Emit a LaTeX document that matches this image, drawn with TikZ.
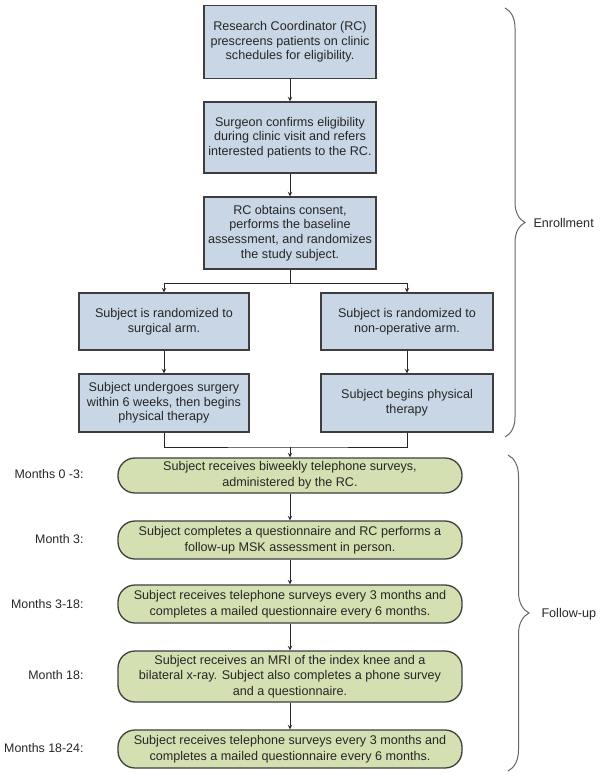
\documentclass[tikz,border=0pt]{standalone}
\usepackage{fontspec}
\setmainfont{Liberation Sans}
\usetikzlibrary{decorations.pathreplacing}
\definecolor{boxblue}{RGB}{201,214,230}
\definecolor{boxgreen}{RGB}{212,224,178}
\definecolor{boxline}{RGB}{62,62,62}

\begin{document}
\begin{tikzpicture}[x=1pt, y=-1pt, >=stealth,
  enrollbox/.style={draw=boxline, fill=boxblue, line width=1.3pt, align=center, inner sep=0pt,
    font=\fontsize{12.6}{14.6}\selectfont, text=black!85},
  followbox/.style={draw=boxline, fill=boxgreen, line width=1.3pt, align=center, inner sep=0pt,
    rounded corners=17pt, minimum width=344pt, font=\fontsize{12.6}{15.6}\selectfont, text=black!85},
  monthlabel/.style={anchor=east, font=\fontsize{12.4}{14}\selectfont, text=black!85},
  link/.style={->, line width=1pt, draw=black!85},
  bracemark/.style={decorate, decoration={brace, amplitude=20pt}, line width=1pt, draw=black!60}]
  \useasboundingbox (0,0) rectangle (602,778);
  \node[enrollbox, minimum width=172pt, minimum height=73pt] (prescreen) at (290,42)
    {Research Coordinator (RC)\\prescreens patients on clinic\\schedules for eligibility.};
  \node[enrollbox, minimum width=172pt, minimum height=71pt] (confirm) at (290,137.5)
    {Surgeon confirms eligibility\\during clinic visit and refers\\interested patients to the RC.};
  \node[enrollbox, minimum width=172pt, minimum height=72pt] (consent) at (290,233)
    {RC obtains consent,\\performs the baseline\\assessment, and randomizes\\the study subject.};
  \node[enrollbox, minimum width=170pt, minimum height=57pt] (surgarm) at (164,321.5)
    {Subject is randomized to\\surgical arm.};
  \node[enrollbox, minimum width=172pt, minimum height=57pt] (nonoparm) at (407,321.5)
    {Subject is randomized to\\non-operative arm.};
  \node[enrollbox, minimum width=170pt, minimum height=58pt] (surgery) at (164,403)
    {Subject undergoes surgery\\within 6 weeks, then begins\\physical therapy};
  \node[enrollbox, minimum width=172pt, minimum height=58pt] (therapy) at (407,403)
    {Subject begins physical\\therapy};
  \coordinate (split) at (290,283);
  \coordinate (merge) at (290,447);

  \node[followbox, minimum height=35pt] (biweekly) at (290,475.5)
    {Subject receives biweekly telephone surveys,\\administered by the RC.};
  \node[followbox, minimum height=38pt] (msk) at (290,540)
    {Subject completes a questionnaire and RC performs a\\follow-up MSK assessment in person.};
  \node[followbox, minimum height=38pt] (surveysa) at (290,604)
    {Subject receives telephone surveys every 3 months and\\completes a mailed questionnaire every 6 months.};
  \node[followbox, minimum height=51pt] (mri) at (290,676.5)
    {Subject receives an MRI of the index knee and a\\bilateral x-ray. Subject also completes a phone survey\\and a questionnaire.};
  \node[followbox, minimum height=38pt] (surveysb) at (290,749)
    {Subject receives telephone surveys every 3 months and\\completes a mailed questionnaire every 6 months.};

  \node[monthlabel] (m0) at (87,474) {Months 0 -3:};
  \node[monthlabel] (m3) at (87,539) {Month 3:};
  \node[monthlabel] (m318) at (87,604) {Months 3-18:};
  \node[monthlabel] (m18) at (87,675) {Month 18:};
  \node[monthlabel] (m1824) at (87,748) {Months 18-24:};

  \draw[link] (prescreen) -- (confirm);
  \draw[link] (confirm) -- (consent);
  \draw[line width=1pt, draw=black!85] (consent) -- (split);
  \draw[link] (split) -| (surgarm);
  \draw[link] (split) -| (nonoparm);
  \draw[link] (surgarm) -- (surgery);
  \draw[link] (nonoparm) -- (therapy);
  \draw[line width=1pt, draw=black!85] (surgery) |- (merge) -| (therapy);
  \draw[link] (merge) -- (biweekly);
  \draw[link] (biweekly) -- (msk);
  \draw[link] (msk) -- (surveysa);
  \draw[link] (surveysa) -- (mri);
  \draw[link] (mri) -- (surveysb);

  \coordinate (enrolltop) at (505,8);
  \coordinate (enrollbot) at (505,437);
  \coordinate (followtop) at (508,455);
  \coordinate (followbot) at (508,771);
  \draw[bracemark] (enrolltop) -- (enrollbot);
  \draw[bracemark, decoration={amplitude=21pt}] (followtop) -- (followbot);
  \node[anchor=west, font=\fontsize{12.6}{14}\selectfont, text=black!85] (enroll) at (530,223) {Enrollment};
  \node[anchor=west, font=\fontsize{12.6}{14}\selectfont, text=black!85] (follow) at (538,614) {Follow-up};
\end{tikzpicture}
\end{document}
